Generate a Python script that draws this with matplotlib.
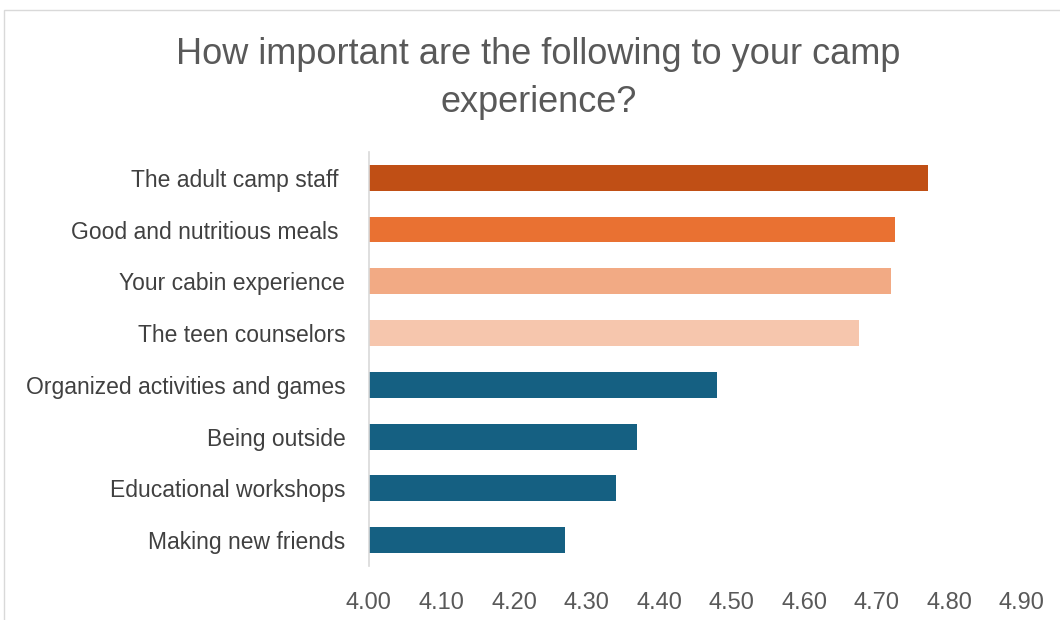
import matplotlib.pyplot as plt
from matplotlib.patches import Rectangle

categories = ["The adult camp staff ", "Good and nutritious meals ", "Your cabin experience",
              "The teen counselors", "Organized activities and games", "Being outside",
              "Educational workshops", "Making new friends"]
scores = [4.77, 4.725, 4.72, 4.675, 4.48, 4.37, 4.34, 4.27]
bar_colors = ["#C04F15", "#E97132", "#F2AA84", "#F6C6AD",
              "#156082", "#156082", "#156082", "#156082"]
ticks = [4.0, 4.1, 4.2, 4.3, 4.4, 4.5, 4.6, 4.7, 4.8, 4.9]

plt.rcParams['font.family'] = ['Liberation Sans', 'DejaVu Sans']

fig = plt.figure(figsize=(10.6, 6.2), dpi=100)
ax = fig.add_axes([0.348, 0.087, 0.616, 0.668])

y = list(range(len(categories)))
ax.barh(y, [s - 4.0 for s in scores], left=4.0, height=0.5, color=bar_colors)
ax.set_ylim(len(categories) - 0.5, -0.5)
ax.set_xlim(4.0, 4.9)
ax.set_yticks(y)
ax.set_yticklabels(categories, fontsize=16.5, color="#404040")
ax.set_xticks(ticks)
ax.set_xticklabels([f"{t:.2f}" for t in ticks], fontsize=17, color="#595959")
ax.tick_params(axis="y", length=0, pad=17)
ax.tick_params(axis="x", length=0, pad=19)
for s in ["top", "right", "bottom"]:
    ax.spines[s].set_visible(False)
ax.spines["left"].set_color("#D9D9D9")
ax.spines["left"].set_linewidth(1.2)

fig.text(0.508, 0.873, "How important are the following to your camp\nexperience?",
         ha="center", va="center", fontsize=26, color="#595959", linespacing=1.5)

fig.patches.append(Rectangle((0.004, -0.01), 1.2, 0.994, transform=fig.transFigure,
                             fill=False, edgecolor="#D9D9D9", linewidth=1))

fig.savefig("out.png", dpi=100, facecolor="white")
